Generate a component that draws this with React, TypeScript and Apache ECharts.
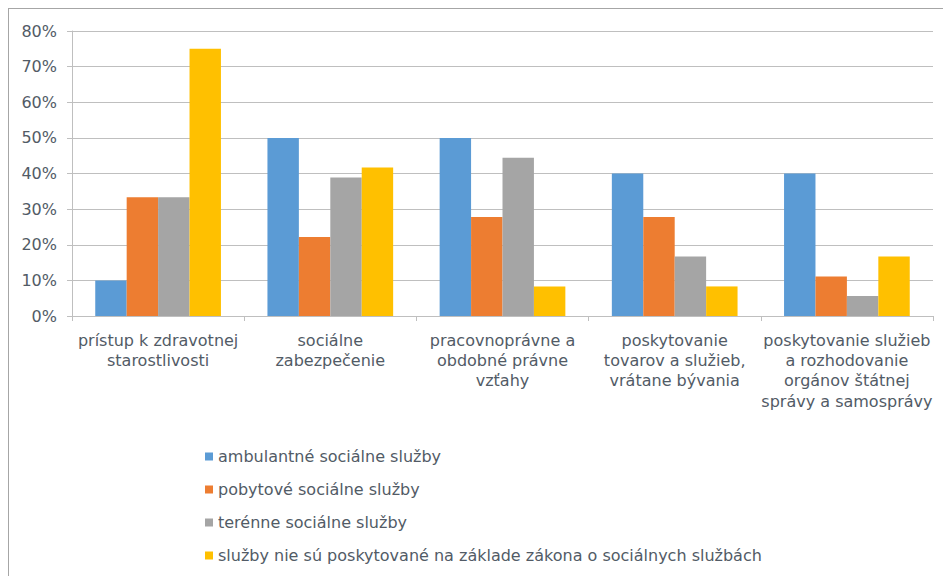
import React, { useEffect, useRef } from "react";
import * as echarts from "echarts";

const categories = [
  "prístup k zdravotnej\nstarostlivosti",
  "sociálne\nzabezpečenie",
  "pracovnoprávne a\nobdobné právne\nvzťahy",
  "poskytovanie\ntovarov a služieb,\nvrátane bývania",
  "poskytovanie služieb\na rozhodovanie\norgánov štátnej\nsprávy a samosprávy",
];

const seriesNames = [
  "ambulantné sociálne služby",
  "pobytové sociálne služby",
  "terénne sociálne služby",
  "služby nie sú poskytované na základe zákona o sociálnych službách",
];

const ambulantne = [10, 50, 50, 40, 40];
const pobytove = [33.3, 22.2, 27.8, 27.8, 11.1];
const terenne = [33.3, 38.9, 44.4, 16.7, 5.6];
const mimoZakona = [75, 41.7, 8.3, 8.3, 16.7];

const colors = ["#5B9BD5", "#ED7D31", "#A5A5A5", "#FFC000"];

const FONT = "DejaVu Sans";
const TEXT = "#525b66";

export default function App() {
  const ref = useRef<HTMLDivElement>(null);

  useEffect(() => {
    document.body.style.overflow = "hidden";
    const chart = echarts.init(ref.current!, null, { renderer: "svg" });
    const values = [ambulantne, pobytove, terenne, mimoZakona];
    chart.setOption({
      animation: false,
      color: colors,
      textStyle: { fontFamily: FONT, color: TEXT },
      grid: { left: 63, right: 19, top: 22, bottom: 261, containLabel: false },
      legend: {
        orient: "vertical",
        left: 191,
        top: 434,
        icon: "rect",
        itemWidth: 8,
        itemHeight: 8,
        itemGap: 16,
        selectedMode: false,
        textStyle: { fontFamily: FONT, fontSize: 16, color: TEXT, lineHeight: 17 },
        data: seriesNames,
      },
      xAxis: {
        type: "category",
        data: categories,
        axisLine: { show: true, lineStyle: { color: "#bfbfbf", width: 1 } },
        axisTick: { show: true, length: 5, lineStyle: { color: "#bfbfbf" } },
        axisLabel: {
          interval: 0,
          margin: 14,
          fontFamily: FONT,
          fontSize: 16,
          lineHeight: 20.3,
          color: TEXT,
        },
        splitLine: { show: false },
      },
      yAxis: {
        type: "value",
        min: 0,
        max: 80,
        interval: 10,
        axisLine: { show: true, lineStyle: { color: "#bfbfbf", width: 1 } },
        axisTick: { show: true, length: 5, lineStyle: { color: "#bfbfbf" } },
        axisLabel: {
          margin: 15,
          fontFamily: FONT,
          fontSize: 16,
          color: TEXT,
          formatter: (v: number) => `${v}%`,
        },
        splitLine: { show: true, lineStyle: { color: "#bfbfbf", width: 1 } },
      },
      series: seriesNames.map((name, i) => ({
        name,
        type: "bar",
        data: values[i],
        barGap: "0%",
        barCategoryGap: "27%",
        itemStyle: { color: colors[i] },
      })),
    });
    return () => chart.dispose();
  }, []);

  return (
    <div
      ref={ref}
      style={{
        width: 943,
        height: 568,
        borderLeft: "1px solid #a6a6a6",
        borderTop: "1px solid #a6a6a6",
        background: "#fff",
      }}
    />
  );
}
